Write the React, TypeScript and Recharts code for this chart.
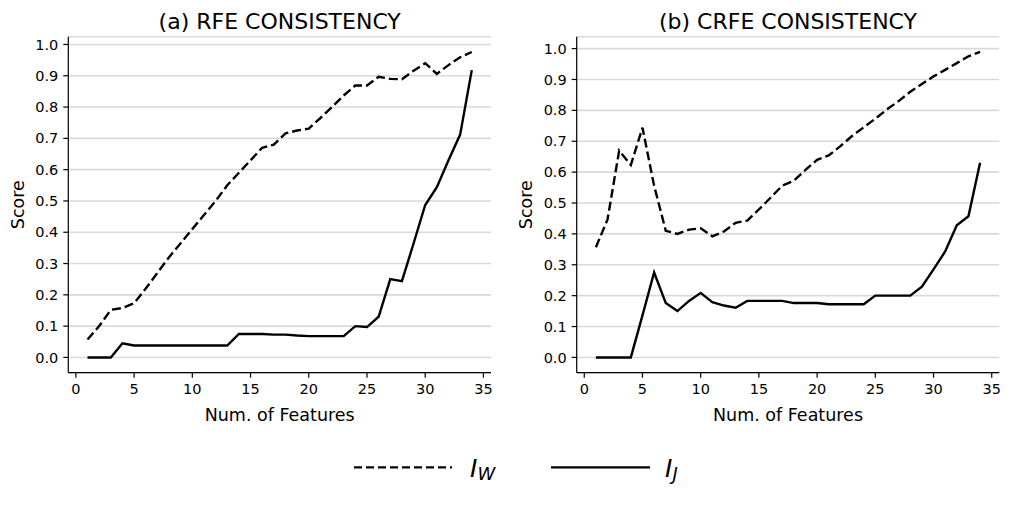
import React from 'react';
import { LineChart, Line, XAxis, YAxis, CartesianGrid } from 'recharts';

// number of selected features
const features = [1, 2, 3, 4, 5, 6, 7, 8, 9, 10, 11, 12, 13, 14, 15, 16, 17, 18, 19, 20, 21, 22, 23, 24, 25, 26, 27, 28, 29, 30, 31, 32, 33, 34];

// (a) RFE
const rfeIW = [0.057, 0.1, 0.152, 0.158, 0.173, 0.22, 0.27, 0.32, 0.365, 0.41, 0.455, 0.5, 0.55, 0.59, 0.63, 0.67, 0.68, 0.716, 0.725, 0.731, 0.765, 0.8, 0.837, 0.869, 0.869, 0.897, 0.89, 0.889, 0.916, 0.94, 0.906, 0.934, 0.959, 0.976];
const rfeIJ = [0, 0, 0, 0.045, 0.038, 0.038, 0.038, 0.038, 0.038, 0.038, 0.038, 0.038, 0.038, 0.075, 0.075, 0.075, 0.073, 0.073, 0.07, 0.068, 0.068, 0.068, 0.068, 0.1, 0.097, 0.13, 0.25, 0.244, 0.364, 0.487, 0.544, 0.63, 0.712, 0.918];

// (b) CRFE
const crfeIW = [0.357, 0.447, 0.67, 0.623, 0.744, 0.556, 0.41, 0.4, 0.414, 0.418, 0.392, 0.408, 0.436, 0.443, 0.479, 0.517, 0.556, 0.572, 0.607, 0.64, 0.654, 0.684, 0.717, 0.745, 0.773, 0.803, 0.83, 0.86, 0.885, 0.91, 0.931, 0.953, 0.975, 0.989];
const crfeIJ = [0, 0, 0, 0, 0.136, 0.275, 0.176, 0.15, 0.183, 0.209, 0.179, 0.168, 0.161, 0.183, 0.183, 0.183, 0.183, 0.176, 0.176, 0.176, 0.172, 0.172, 0.172, 0.172, 0.2, 0.2, 0.2, 0.2, 0.229, 0.285, 0.343, 0.428, 0.457, 0.63];

const xTicks = [0, 5, 10, 15, 20, 25, 30, 35];
const yTicks = [0, 0.1, 0.2, 0.3, 0.4, 0.5, 0.6, 0.7, 0.8, 0.9, 1.0];
const titles = ['(a) RFE CONSISTENCY', '(b) CRFE CONSISTENCY'];

const FONT = 'DejaVu Sans';
const PLOT_TOP = 36.7;
const PLOT_BOTTOM = 372.7;
const CHART_H = 430;

const pad = (lo: number, hi: number): [number, number] => {
  const r = hi - lo;
  return [lo - r * 0.05, hi + r * 0.05];
};

const xDomain = pad(features[0], features[features.length - 1]);

type PanelProps = {
  left: number;
  axisWidth: number;
  rightMargin: number;
  iw: number[];
  ij: number[];
};

const Panel = ({ left, axisWidth, rightMargin, iw, ij }: PanelProps) => {
  const data = features.map((x, i) => ({ x, iw: iw[i], ij: ij[i] }));
  const all = [...iw, ...ij];
  const yDomain = pad(Math.min(...all), Math.max(...all));
  const tick = { fill: '#000', fontSize: 14.5, fontFamily: FONT };

  return (
    <div style={{ position: 'absolute', left, top: 0 }}>
      <LineChart
        width={500}
        height={CHART_H}
        data={data}
        margin={{ top: PLOT_TOP, right: rightMargin, bottom: 0, left: 0 }}
      >
        <CartesianGrid vertical={false} stroke="#d9d9d9" strokeWidth={1.6} />
        <XAxis
          dataKey="x"
          type="number"
          domain={xDomain}
          ticks={xTicks}
          interval={0}
          height={CHART_H - PLOT_BOTTOM}
          tick={tick}
          tickSize={5}
          tickMargin={6}
          axisLine={{ stroke: '#000', strokeWidth: 1.2 }}
          tickLine={{ stroke: '#000', strokeWidth: 1.2 }}
        />
        <XAxis
          xAxisId="top"
          orientation="top"
          dataKey="x"
          type="number"
          domain={xDomain}
          height={0}
          tick={false}
          tickLine={false}
          axisLine={{ stroke: '#000', strokeWidth: 1.2 }}
        />
        <YAxis
          type="number"
          domain={yDomain}
          ticks={yTicks}
          interval={0}
          width={axisWidth}
          tickFormatter={(v: number) => v.toFixed(1)}
          tick={tick}
          tickSize={5}
          tickMargin={5}
          axisLine={{ stroke: '#000', strokeWidth: 1.2 }}
          tickLine={{ stroke: '#000', strokeWidth: 1.2 }}
        />
        <YAxis
          yAxisId="right"
          orientation="right"
          type="number"
          domain={yDomain}
          width={0}
          tick={false}
          tickLine={false}
          axisLine={{ stroke: '#000', strokeWidth: 1.2 }}
        />
        <Line
          type="linear"
          dataKey="iw"
          stroke="#000"
          strokeWidth={2.4}
          strokeDasharray="9 4"
          dot={false}
          isAnimationActive={false}
        />
        <Line
          type="linear"
          dataKey="ij"
          stroke="#000"
          strokeWidth={2.4}
          dot={false}
          isAnimationActive={false}
        />
      </LineChart>
    </div>
  );
};

export default function App() {
  const centers = [279.7, 788];
  const scoreX = [18, 526];
  const midY = (PLOT_TOP + PLOT_BOTTOM) / 2;

  return (
    <div
      style={{
        position: 'absolute',
        left: 0,
        top: 0,
        width: 1013,
        height: 507,
        background: '#fff',
        fontFamily: FONT,
      }}
    >
      <Panel left={0} axisWidth={68.3} rightMargin={9} iw={rfeIW} ij={rfeIJ} />
      <Panel left={508} axisWidth={68.7} rightMargin={8.7} iw={crfeIW} ij={crfeIJ} />

      <svg
        width={1013}
        height={507}
        style={{ position: 'absolute', left: 0, top: 0, pointerEvents: 'none' }}
        fontFamily={FONT}
      >
        {titles.map((t, i) => (
          <text key={t} x={centers[i]} y={29.3} textAnchor="middle" fontSize={22} fill="#000">
            {t}
          </text>
        ))}
        {centers.map((c, i) => (
          <text key={'xl' + i} x={c} y={421} textAnchor="middle" fontSize={17.5} fill="#000">
            Num. of Features
          </text>
        ))}
        {scoreX.map((sx, i) => (
          <text
            key={'yl' + i}
            transform={`translate(${sx + 6}, ${midY}) rotate(-90)`}
            textAnchor="middle"
            fontSize={17.5}
            fill="#000"
          >
            Score
          </text>
        ))}

        {/* legend */}
        <line x1={354} y1={467.3} x2={452} y2={467.3} stroke="#000" strokeWidth={2.2} strokeDasharray="8 4" />
        <text x={470} y={477} fontSize={25} fontStyle="italic" fill="#000">
          I
          <tspan fontSize={18} dy={3}>W</tspan>
        </text>
        <line x1={551} y1={467.3} x2={650} y2={467.3} stroke="#000" strokeWidth={2.2} />
        <text x={665} y={477} fontSize={25} fontStyle="italic" fill="#000">
          I
          <tspan fontSize={18} dy={3}>J</tspan>
        </text>
      </svg>
    </div>
  );
}
